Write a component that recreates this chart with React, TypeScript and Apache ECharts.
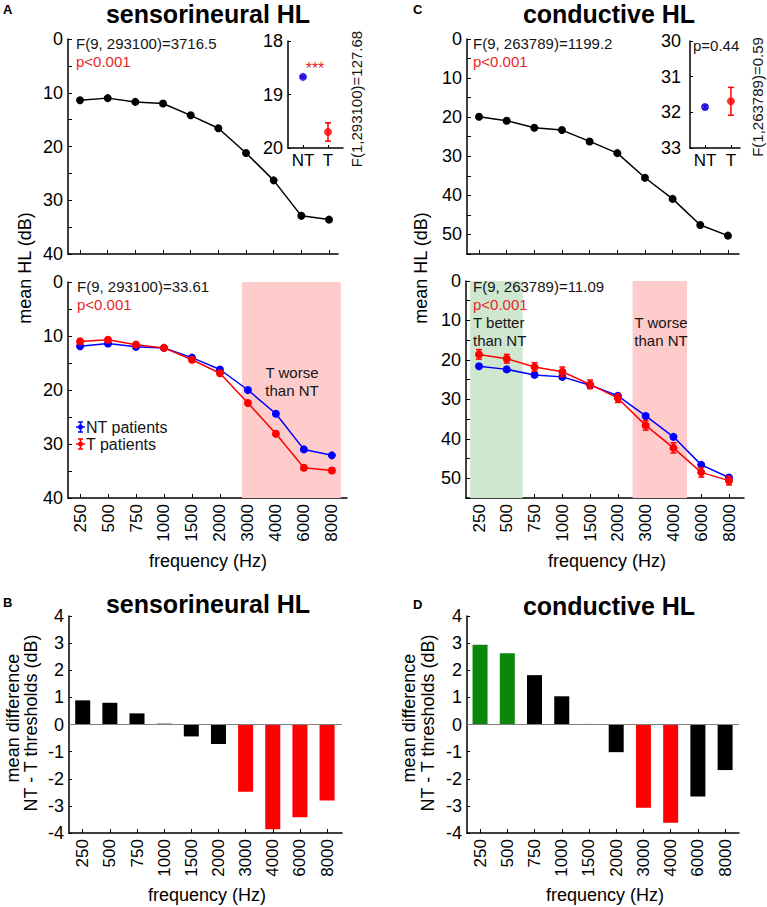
import React, { useEffect, useRef } from "react";
import * as echarts from "echarts";

// ---------- data ----------
const FREQS = ["250", "500", "750", "1000", "1500", "2000", "3000", "4000", "6000", "8000"];

// sensorineural HL
const SN_ALL = [11.4, 11.0, 11.7, 12.0, 14.2, 16.6, 21.2, 26.3, 32.9, 33.6];
const SN_NT = [11.9, 11.4, 12.0, 12.2, 14.0, 16.2, 20.0, 24.4, 31.0, 32.1];
const SN_NT_ERR = [0.2, 0.2, 0.2, 0.2, 0.2, 0.2, 0.2, 0.2, 0.2, 0.2];
const SN_T = [11.0, 10.7, 11.6, 12.2, 14.4, 16.9, 22.4, 28.1, 34.4, 34.9];
const SN_T_ERR = [0.4, 0.4, 0.4, 0.4, 0.4, 0.4, 0.4, 0.4, 0.4, 0.4];
const SN_DIFF = [0.89, 0.8, 0.41, 0.03, -0.44, -0.72, -2.48, -3.86, -3.42, -2.8];
const SN_SIG = [0, 0, 0, 0, 0, 0, -1, -1, -1, -1]; // -1: T worse, +1: T better
const SN_WORSE_RANGE = [5.79, 9.32];
const SN_INSET = [18.67, 19.7];
const SN_INSET_ERR = [0.02, 0.17];

// conductive HL
const CD_ALL = [19.9, 20.9, 22.7, 23.3, 26.2, 29.2, 35.5, 40.9, 47.6, 50.3];
const CD_NT = [21.6, 22.4, 23.8, 24.3, 26.4, 29.1, 34.2, 39.5, 46.6, 49.8];
const CD_NT_ERR = [0.5, 0.5, 0.5, 0.5, 0.5, 0.5, 0.5, 0.5, 0.5, 0.5];
const CD_T = [18.6, 19.7, 21.8, 23.0, 26.2, 29.7, 36.6, 42.3, 48.5, 50.6];
const CD_T_ERR = [1.2, 1.1, 1.1, 1.2, 1.1, 1.1, 1.2, 1.3, 1.2, 1.1];
const CD_DIFF = [2.94, 2.63, 1.82, 1.04, 0.02, -1.02, -3.07, -3.62, -2.65, -1.68];
const CD_SIG = [1, 1, 0, 0, 0, 0, -1, -1, 0, 0];
const CD_BETTER_RANGE = [-0.32, 1.57];
const CD_WORSE_RANGE = [5.53, 7.49];
const CD_INSET = [31.85, 31.69];
const CD_INSET_ERR = [0.05, 0.39];

const GROUPS = ["NT", "T"];

// ---------- styles ----------
const FONT = '"Liberation Sans", Arial, Helvetica, sans-serif';
const BLUE = "#0000ff";
const RED = "#ff0000";
const RED_TXT = "#e8262b";
const GREEN = "#0b870b";
const PINK = "#ffcccc";
const LGREEN = "#cfe6cf";
const IDX = FREQS.map((_, i) => i);

const axisLine = { show: true, onZero: false, lineStyle: { color: "#000", width: 1.5 } };

function xAxisDef(grid: number, min: number, max: number, labels: boolean) {
  return {
    type: "value",
    gridIndex: grid,
    min,
    max,
    axisLine,
    axisTick: { show: true, inside: true, length: 4, customValues: IDX, lineStyle: { color: "#000", width: 1 } },
    axisLabel: {
      show: labels,
      customValues: IDX,
      rotate: 90,
      margin: 6,
      fontSize: 17,
      color: "#000",
      fontFamily: FONT,
      formatter: (v: number) => FREQS[Math.round(v)] ?? "",
    },
    splitLine: { show: false },
  };
}

function yHL(grid: number, max: number) {
  return {
    type: "value",
    gridIndex: grid,
    inverse: true,
    min: 0,
    max,
    interval: 5,
    axisLine,
    axisTick: { show: true, inside: true, length: 4, lineStyle: { color: "#000", width: 1 } },
    axisLabel: {
      fontSize: 18,
      margin: 5,
      color: "#000",
      fontFamily: FONT,
      formatter: (v: number) => (v % 10 === 0 ? String(v) : ""),
    },
    splitLine: { show: false },
  };
}

function yDiff(grid: number) {
  return {
    type: "value",
    gridIndex: grid,
    min: -4,
    max: 4,
    interval: 1,
    axisLine,
    axisTick: { show: true, inside: true, length: 3, lineStyle: { color: "#000", width: 1 } },
    axisLabel: { fontSize: 18, margin: 5, color: "#000", fontFamily: FONT },
    splitLine: { show: false },
  };
}

function xInset(grid: number, min: number, max: number) {
  return {
    type: "value",
    gridIndex: grid,
    min,
    max,
    axisLine,
    axisTick: { show: true, inside: true, length: 3, customValues: [0, 1], lineStyle: { color: "#000" } },
    axisLabel: {
      customValues: [0, 1],
      margin: 4,
      fontSize: 17,
      color: "#000",
      fontFamily: FONT,
      formatter: (v: number) => GROUPS[Math.round(v)] ?? "",
    },
    splitLine: { show: false },
  };
}

function yInset(grid: number, min: number, max: number, margin: number) {
  return {
    type: "value",
    gridIndex: grid,
    inverse: true,
    min,
    max,
    interval: 1,
    axisLine,
    axisTick: { show: true, inside: true, length: 3, lineStyle: { color: "#000" } },
    axisLabel: { fontSize: 18, margin, color: "#000", fontFamily: FONT },
    splitLine: { show: false },
  };
}

function lineSeries(ax: number, vals: number[], color: string, extra: any = {}) {
  return {
    type: "line",
    xAxisIndex: ax,
    yAxisIndex: ax,
    data: vals.map((v, i) => [i, v]),
    symbol: "circle",
    symbolSize: 8,
    itemStyle: { color },
    lineStyle: { color, width: 1.5 },
    z: 3,
    ...extra,
  };
}

function errSeries(ax: number, vals: number[], errs: number[], color: string, z = 2) {
  return {
    type: "custom",
    xAxisIndex: ax,
    yAxisIndex: ax,
    data: vals.map((v, i) => [i, v - errs[i], v + errs[i]]),
    z,
    renderItem: (_p: any, api: any) => {
      const x = api.value(0);
      const lo = api.coord([x, api.value(1)]);
      const hi = api.coord([x, api.value(2)]);
      const w = 3;
      const st = { stroke: color, lineWidth: 1.5 };
      return {
        type: "group",
        children: [
          { type: "line", shape: { x1: lo[0], y1: lo[1], x2: hi[0], y2: hi[1] }, style: st },
          { type: "line", shape: { x1: lo[0] - w, y1: lo[1], x2: lo[0] + w, y2: lo[1] }, style: st },
          { type: "line", shape: { x1: hi[0] - w, y1: hi[1], x2: hi[0] + w, y2: hi[1] }, style: st },
        ],
      };
    },
  };
}

function sigColor(s: number) {
  return s < 0 ? RED : s > 0 ? GREEN : "#000";
}

function barSeries(ax: number, vals: number[], sig: number[]) {
  return {
    type: "bar",
    xAxisIndex: ax,
    yAxisIndex: ax,
    barWidth: 15,
    data: vals.map((v, i) => ({ value: [i, v], itemStyle: { color: sigColor(sig[i]) } })),
    markLine: {
      silent: true,
      symbol: "none",
      label: { show: false },
      lineStyle: { color: "#808080", width: 1, type: "solid" },
      data: [{ yAxis: 0 }],
    },
  };
}

function insetSeries(ax: number, vals: number[], errs: number[]) {
  const cols = [BLUE, RED];
  return [
    errSeries(ax, vals, errs, RED, 2),
    {
      type: "scatter",
      xAxisIndex: ax,
      yAxisIndex: ax,
      symbolSize: 8,
      z: 3,
      data: vals.map((v, i) => ({ value: [i, v], itemStyle: { color: cols[i] } })),
    },
  ];
}

function T(text: string, x: number, y: number, o: any = {}) {
  return {
    type: "text",
    x,
    y,
    rotation: o.rot || 0,
    silent: true,
    z: 100,
    style: {
      text,
      fill: o.color || "#151515",
      fontSize: o.size || 15,
      fontWeight: o.bold ? "bold" : "normal",
      fontFamily: FONT,
      textAlign: o.align || "left",
      textVerticalAlign: "middle",
    },
  };
}

function legendIcon(x: number, y: number, color: string) {
  const st = { stroke: color, lineWidth: 1.5 };
  return [
    { type: "line", silent: true, z: 100, shape: { x1: x - 4.5, y1: y, x2: x + 4.5, y2: y }, style: st },
    { type: "line", silent: true, z: 100, shape: { x1: x, y1: y - 5, x2: x, y2: y + 5 }, style: st },
    { type: "line", silent: true, z: 100, shape: { x1: x - 2.5, y1: y - 5, x2: x + 2.5, y2: y - 5 }, style: st },
    { type: "line", silent: true, z: 100, shape: { x1: x - 2.5, y1: y + 5, x2: x + 2.5, y2: y + 5 }, style: st },
    { type: "circle", silent: true, z: 101, shape: { cx: x, cy: y, r: 2.5 }, style: { fill: color } },
  ];
}

const ROT = Math.PI / 2;

export default function App() {
  const ref = useRef<HTMLDivElement>(null);
  useEffect(() => {
    if (!ref.current) return;
    const chart = echarts.init(ref.current, undefined, { renderer: "svg" });
    const option: any = {
      animation: false,
      backgroundColor: "#fff",
      grid: [
        { left: 68, top: 39, width: 270, height: 215 }, // 0 A top
        { left: 68, top: 282, width: 279, height: 216 }, // 1 A mid
        { left: 69, top: 616, width: 273, height: 217 }, // 2 B
        { left: 467, top: 39, width: 272, height: 215 }, // 3 C top
        { left: 466, top: 281, width: 278, height: 217 }, // 4 C mid
        { left: 467, top: 616, width: 272, height: 217 }, // 5 D
        { left: 288, top: 41, width: 55, height: 107 }, // 6 A inset
        { left: 690, top: 41, width: 50, height: 107 }, // 7 C inset
      ],
      xAxis: [
        xAxisDef(0, -0.434, 9.325, false),
        xAxisDef(1, -0.43, 9.54, true),
        xAxisDef(2, -0.505, 9.55, true),
        xAxisDef(3, -0.434, 9.4, false),
        xAxisDef(4, -0.468, 9.54, true),
        xAxisDef(5, -0.48, 9.51, true),
        xInset(6, -0.6, 1.6),
        xInset(7, -0.58, 1.35),
      ],
      yAxis: [
        yHL(0, 40),
        yHL(1, 40),
        yDiff(2),
        yHL(3, 55),
        yHL(4, 55),
        yDiff(5),
        yInset(6, 18, 20, 5),
        yInset(7, 30, 33, 9),
      ],
      series: [
        lineSeries(0, SN_ALL, "#000"),
        lineSeries(1, SN_NT, BLUE, {
          markArea: {
            silent: true,
            itemStyle: { color: PINK },
            data: [[{ xAxis: SN_WORSE_RANGE[0] }, { xAxis: SN_WORSE_RANGE[1] }]],
          },
        }),
        errSeries(1, SN_NT, SN_NT_ERR, BLUE),
        lineSeries(1, SN_T, RED, { z: 4 }),
        errSeries(1, SN_T, SN_T_ERR, RED, 4),
        barSeries(2, SN_DIFF, SN_SIG),
        lineSeries(3, CD_ALL, "#000"),
        lineSeries(4, CD_NT, BLUE, {
          markArea: {
            silent: true,
            data: [
              [{ xAxis: CD_BETTER_RANGE[0], itemStyle: { color: LGREEN } }, { xAxis: CD_BETTER_RANGE[1] }],
              [{ xAxis: CD_WORSE_RANGE[0], itemStyle: { color: PINK } }, { xAxis: CD_WORSE_RANGE[1] }],
            ],
          },
        }),
        errSeries(4, CD_NT, CD_NT_ERR, BLUE),
        lineSeries(4, CD_T, RED, { z: 4 }),
        errSeries(4, CD_T, CD_T_ERR, RED, 4),
        barSeries(5, CD_DIFF, CD_SIG),
        ...insetSeries(6, SN_INSET, SN_INSET_ERR),
        ...insetSeries(7, CD_INSET, CD_INSET_ERR),
      ],
      graphic: [
        T("A", 3, 9, { bold: true, size: 13, color: "#000" }),
        T("C", 413, 9, { bold: true, size: 13, color: "#000" }),
        T("B", 3, 602, { bold: true, size: 13, color: "#000" }),
        T("D", 413, 604, { bold: true, size: 13, color: "#000" }),
        T("sensorineural HL", 208, 14, { bold: true, size: 25, align: "center", color: "#000" }),
        T("conductive HL", 609, 14, { bold: true, size: 25, align: "center", color: "#000" }),
        T("sensorineural HL", 208, 604, { bold: true, size: 25, align: "center", color: "#000" }),
        T("conductive HL", 609, 606, { bold: true, size: 25, align: "center", color: "#000" }),
        T("F(9, 293100)=3716.5", 76, 43),
        T("p<0.001", 76, 61, { color: RED_TXT }),
        T("F(9, 263789)=1199.2", 473, 43),
        T("p<0.001", 473, 61, { color: RED_TXT }),
        T("F(9, 293100)=33.61", 77, 286),
        T("p<0.001", 77, 304, { color: RED_TXT }),
        T("F(9, 263789)=11.09", 473, 286),
        T("p<0.001", 473, 304, { color: RED_TXT }),
        T("T better", 473, 322),
        T("than NT", 473, 340),
        T("T worse", 661, 322, { align: "center" }),
        T("than NT", 661, 340, { align: "center" }),
        T("T worse", 292, 372, { align: "center" }),
        T("than NT", 292, 390, { align: "center" }),
        ...legendIcon(80.5, 427, BLUE),
        ...legendIcon(80.5, 444, RED),
        T("NT patients", 86, 427, { size: 16 }),
        T("T patients", 86, 444, { size: 16 }),
        T("***", 315, 68, { color: RED_TXT, align: "center", size: 16 }),
        T("p=0.44", 693, 45),
        T("F(1,293100)=127.68", 356, 99, { rot: ROT, align: "center" }),
        T("F(1,263789)=0.59", 757, 97, { rot: ROT, align: "center" }),
        T("mean HL (dB)", 25, 268, { rot: ROT, align: "center", size: 18, color: "#000" }),
        T("mean HL (dB)", 421, 268, { rot: ROT, align: "center", size: 18, color: "#000" }),
        T("frequency (Hz)", 208, 561, { align: "center", size: 18, color: "#000" }),
        T("frequency (Hz)", 607, 561, { align: "center", size: 18, color: "#000" }),
        T("frequency (Hz)", 207, 895, { align: "center", size: 18, color: "#000" }),
        T("frequency (Hz)", 605, 895, { align: "center", size: 18, color: "#000" }),
        T("mean difference", 13, 718, { rot: ROT, align: "center", size: 18, color: "#000" }),
        T("NT - T thresholds (dB)", 31, 723, { rot: ROT, align: "center", size: 18, color: "#000" }),
        T("mean difference", 409, 718, { rot: ROT, align: "center", size: 18, color: "#000" }),
        T("NT - T thresholds (dB)", 428, 723, { rot: ROT, align: "center", size: 18, color: "#000" }),
      ],
    };
    chart.setOption(option);
    return () => chart.dispose();
  }, []);
  return (
    <div
      ref={ref}
      style={{ position: "absolute", left: 0, top: 0, width: 767, height: 907 }}
    />
  );
}
